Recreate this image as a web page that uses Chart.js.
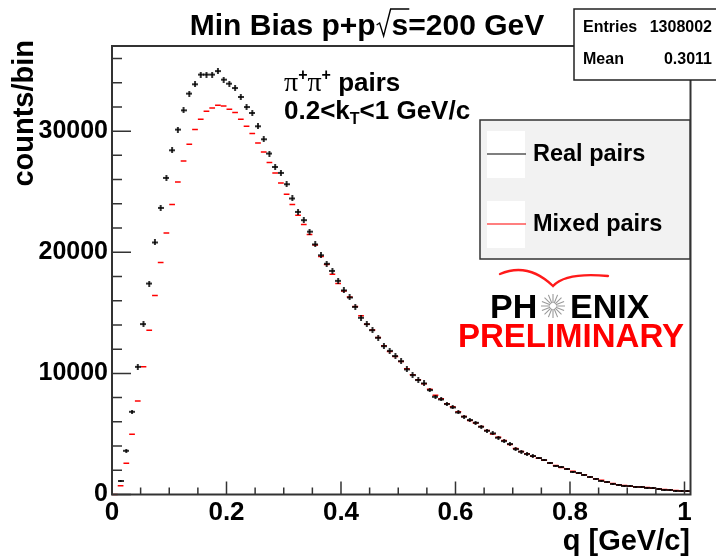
<!DOCTYPE html>
<html>
<head>
<meta charset="utf-8">
<script src="https://cdn.jsdelivr.net/npm/chart.js@4.4.0/dist/chart.umd.min.js"></script>
<style>
html,body{margin:0;padding:0;background:#fff;}
#wrap{width:716px;height:558px;position:relative;}
</style>
</head>
<body>
<div id="wrap"><canvas id="c" width="716" height="558"></canvas></div>
<script>
// ---------- DATA ----------
const qCenters = [
 0.005,0.015,0.025,0.035,0.045,0.055,0.065,0.075,0.085,0.095,
 0.105,0.115,0.125,0.135,0.145,0.155,0.165,0.175,0.185,0.195,
 0.205,0.215,0.225,0.235,0.245,0.255,0.265,0.275,0.285,0.295,
 0.305,0.315,0.325,0.335,0.345,0.355,0.365,0.375,0.385,0.395,
 0.405,0.415,0.425,0.435,0.445,0.455,0.465,0.475,0.485,0.495,
 0.505,0.515,0.525,0.535,0.545,0.555,0.565,0.575,0.585,0.595,
 0.605,0.615,0.625,0.635,0.645,0.655,0.665,0.675,0.685,0.695,
 0.705,0.715,0.725,0.735,0.745,0.755,0.765,0.775,0.785,0.795,
 0.805,0.815,0.825,0.835,0.845,0.855,0.865,0.875,0.885,0.895,
 0.905,0.915,0.925,0.935,0.945,0.955,0.965,0.975,0.985,0.995,
 1.005
];
const realPairs = [
 null,1110,3610,6830,10540,14070,17420,20810,23660,26140,
 28420,30130,31720,33100,33870,34670,34670,34670,34960,34250,
 33920,33560,32820,31990,31500,30400,29330,28150,27040,26550,
 25620,24440,23330,22650,21700,20650,19750,19050,18460,17640,
 16850,16270,15490,14590,14070,13570,12940,12250,11860,11430,
 11010,10330,9860,9450,9170,8620,8070,7850,7470,7190,
 6780,6420,6150,5920,5590,5260,5050,4690,4410,4170,
 3750,3530,3340,3180,2990,2850,2570,2350,2240,2080,
 1880,1750,1610,1420,1250,1140,1010,870,790,720,
 670,620,600,560,500,450,400,360,320,285,
 250
];
const mixedPairs = [
 0,730,2570,4970,7710,10540,13570,16430,19160,21600,
 23940,25810,27540,28920,30130,30980,31640,31910,32130,32080,
 31800,31530,30980,30400,29800,29020,28280,27410,26550,25720,
 24790,23940,23060,22290,21470,20600,19650,18980,18190,17420,
 16800,16300,15520,14750,14050,13590,12960,12280,11800,11400,
 10980,10380,9880,9480,9150,8680,8200,7900,7500,7250,
 6830,6450,6100,5900,5620,5280,5000,4720,4450,4130,
 3800,3560,3360,3150,3000,2820,2600,2400,2230,2100,
 1920,1760,1630,1450,1300,1170,1040,900,810,740,
 680,630,610,570,510,460,420,370,330,290,
 260
];
const seriesNames = ['Real pairs', 'Mixed pairs'];
const xTickValues = [0, 0.2, 0.4, 0.6, 0.8, 1];
const yTickValues = [0, 10000, 20000, 30000];
const statsNames = ['Entries', 'Mean'];
const statsValues = ['1308002', '0.3011'];

// ---------- STYLE ----------
const FONT = '"Liberation Sans", Arial, Helvetica, sans-serif';
const SERIF = '"Liberation Serif", "DejaVu Serif", serif';
const FRAME = '#333333';

function makeMark(w, h, lw, color) {
  const c = document.createElement('canvas');
  c.width = w; c.height = h;
  const g = c.getContext('2d');
  g.fillStyle = color;
  g.fillRect(0, (h - lw) / 2, w, lw);
  g.fillRect((w - lw) / 2, 0, lw, h);
  return c;
}
const markBig = makeMark(6, 6, 1.6, '#000');
const markMid = makeMark(6, 4, 1.6, '#000');
const markSmall = makeMark(6, 2, 1.6, '#000');

const decor = {
  id: 'decor',
  afterDraw(chart) {
    const ctx = chart.ctx;
    const a = chart.chartArea;
    const xs = chart.scales.x, ys = chart.scales.y;
    ctx.save();
    // minor/major ticks (inside frame)
    ctx.strokeStyle = FRAME; ctx.lineWidth = 1.5;
    ctx.beginPath();
    for (let v = 0; v <= 37000; v += 2000) {
      const y = ys.getPixelForValue(v);
      const len = (v % 10000 === 0) ? 19 : 10;
      ctx.moveTo(a.left, y); ctx.lineTo(a.left + len, y);
    }
    for (let k = 0; k <= 20; k++) {
      const v = k * 0.05;
      const x = xs.getPixelForValue(v);
      const len = (k % 4 === 0) ? 13 : 7;
      ctx.moveTo(x, a.bottom); ctx.lineTo(x, a.bottom - len);
    }
    ctx.stroke();
    // frame
    ctx.lineWidth = 2;
    ctx.strokeRect(a.left, a.top, a.right - a.left, a.bottom - a.top);

    ctx.fillStyle = '#000';
    ctx.textBaseline = 'alphabetic';
    // title with radical
    ctx.font = 'bold 30px ' + FONT;
    const p1 = 'Min Bias p+p', p2 = 's=200 GeV';
    const w1 = ctx.measureText(p1).width, w2 = ctx.measureText(p2).width;
    const ws = ctx.measureText('s').width;
    const rw = 16;
    let tx = 367 - (w1 + rw + w2) / 2;
    const tb = 35;
    ctx.textAlign = 'left';
    ctx.fillText(p1, tx, tb);
    tx += w1;
    ctx.strokeStyle = '#000'; ctx.lineWidth = 1.4;
    ctx.beginPath();
    ctx.moveTo(tx + 1, tb - 10); ctx.lineTo(tx + 4, tb - 12);
    ctx.lineTo(tx + 8, tb + 1); ctx.lineTo(tx + 15, tb - 26);
    ctx.lineTo(tx + rw + ws + 1, tb - 26);
    ctx.stroke();
    tx += rw;
    ctx.fillText(p2, tx, tb);

    // stats box
    ctx.fillStyle = '#fff';
    ctx.fillRect(574, 9, 150, 71);
    ctx.strokeStyle = '#222'; ctx.lineWidth = 1.5;
    ctx.strokeRect(574, 9, 150, 71);
    ctx.fillStyle = '#000';
    ctx.font = 'bold 16px ' + FONT;
    ctx.textAlign = 'left';
    ctx.fillText(statsNames[0], 583, 32);
    ctx.fillText(statsNames[1], 583, 64);
    ctx.textAlign = 'right';
    ctx.fillText(statsValues[0], 712, 32);
    ctx.fillText(statsValues[1], 712, 64);

    // pi+pi+ pairs annotation
    ctx.textAlign = 'left';
    let px = 284; const pb = 91;
    const piPart = () => {
      ctx.font = '28px ' + SERIF; ctx.fillText('\u03C0', px, pb); px += ctx.measureText('\u03C0').width;
      ctx.font = 'bold 16px ' + FONT; ctx.fillText('+', px, pb - 11); px += ctx.measureText('+').width;
    };
    piPart(); piPart();
    ctx.font = 'bold 26px ' + FONT; ctx.fillText(' pairs', px, pb);
    px = 284; const kb = 119;
    ctx.font = 'bold 26px ' + FONT; ctx.fillText('0.2<k', px, kb); px += ctx.measureText('0.2<k').width;
    ctx.font = 'bold 16px ' + FONT; ctx.fillText('T', px, kb + 5); px += ctx.measureText('T').width;
    ctx.font = 'bold 26px ' + FONT; ctx.fillText('<1 GeV/c', px, kb);

    // legend
    ctx.fillStyle = '#f2f2f2';
    ctx.fillRect(480, 120, 210, 139);
    ctx.strokeStyle = FRAME; ctx.lineWidth = 1.5;
    ctx.strokeRect(480, 120, 210, 139);
    const legColors = ['#000', '#ff0000'];
    const legY = [154, 224];
    for (let i = 0; i < 2; i++) {
      ctx.fillStyle = '#fff';
      ctx.fillRect(487, legY[i] - 23, 38, 47);
      ctx.strokeStyle = legColors[i]; ctx.lineWidth = 1.2;
      ctx.beginPath(); ctx.moveTo(487, legY[i]); ctx.lineTo(526, legY[i]); ctx.stroke();
      ctx.fillStyle = '#000';
      ctx.font = 'bold 23.5px ' + FONT;
      ctx.fillText(seriesNames[i], 533, legY[i] + 7);
    }

    // PHENIX preliminary logo
    ctx.strokeStyle = '#ff1a1a'; ctx.lineWidth = 2.4; ctx.lineCap = 'round';
    ctx.beginPath();
    ctx.moveTo(500, 274); ctx.quadraticCurveTo(528, 262, 553, 286);
    ctx.quadraticCurveTo(566, 272, 608, 276);
    ctx.stroke();
    ctx.lineCap = 'butt';
    ctx.fillStyle = '#000';
    ctx.font = 'bold 34px ' + FONT;
    ctx.fillText('PH', 490, 318);
    ctx.fillText('ENIX', 570, 318);
    ctx.strokeStyle = '#9a9a9a'; ctx.lineWidth = 1.1;
    ctx.beginPath();
    for (let k = 0; k < 16; k++) {
      const ang = k * Math.PI / 8;
      ctx.moveTo(553 + 3 * Math.cos(ang), 306 + 3 * Math.sin(ang));
      ctx.lineTo(553 + 12 * Math.cos(ang), 306 + 12 * Math.sin(ang));
    }
    ctx.stroke();
    ctx.fillStyle = '#ff0000';
    ctx.font = 'bold 33px ' + FONT;
    ctx.textAlign = 'center';
    ctx.fillText('PRELIMINARY', 571, 347);

    // axis titles
    ctx.fillStyle = '#000';
    ctx.font = 'bold 29px ' + FONT;
    ctx.textAlign = 'right';
    ctx.fillText('q [GeV/c]', 690, 550);
    ctx.save();
    ctx.translate(33, 40);
    ctx.rotate(-Math.PI / 2);
    ctx.textAlign = 'right';
    ctx.fillText('counts/bin', 0, 0);
    ctx.restore();
    ctx.restore();
  }
};

const chart = new Chart(document.getElementById('c'), {
  type: 'scatter',
  data: {
    datasets: [
      {
        label: seriesNames[0],
        data: qCenters.map((q, i) => ({ x: q, y: realPairs[i] })),
        pointStyle: (c) => {
          const v = c.raw ? c.raw.y : 0;
          return v >= 9000 ? markBig : (v >= 3000 ? markMid : markSmall);
        },
        pointRadius: 3,
        showLine: false,
        order: 0,
        clip: 4
      },
      {
        label: seriesNames[1],
        data: qCenters.map((q, i) => ({ x: q, y: mixedPairs[i] })),
        pointStyle: 'line',
        pointRadius: 2.86,
        pointBorderWidth: 1.5,
        borderColor: '#ff0000',
        backgroundColor: '#ff0000',
        showLine: false,
        order: 1,
        clip: 4
      }
    ]
  },
  options: {
    responsive: false,
    animation: false,
    devicePixelRatio: 1,
    layout: { padding: { top: 46, right: 25.5, left: 0, bottom: 0 } },
    plugins: { legend: { display: false }, tooltip: { enabled: false }, title: { display: false } },
    scales: {
      x: {
        type: 'linear', min: 0, max: 1.0105,
        grid: { display: false, drawTicks: false },
        border: { display: false },
        afterFit: (s) => { s.height = 63.5; },
        afterBuildTicks: (s) => { s.ticks = xTickValues.map(v => ({ value: v })); },
        ticks: {
          padding: 3,
          color: '#000',
          font: { family: FONT, size: 26, weight: 'bold' },
          maxRotation: 0,
          callback: (v) => String(Math.round(v * 10) / 10)
        }
      },
      y: {
        type: 'linear', min: 0, max: 37030,
        grid: { display: false, drawTicks: false },
        border: { display: false },
        afterFit: (s) => { s.width = 112; },
        afterBuildTicks: (s) => { s.ticks = yTickValues.map(v => ({ value: v })); },
        ticks: {
          padding: 4,
          color: '#000',
          font: { family: FONT, size: 25, weight: 'bold' },
          callback: (v) => String(v)
        }
      }
    }
  },
  plugins: [decor]
});
</script>
</body>
</html>
